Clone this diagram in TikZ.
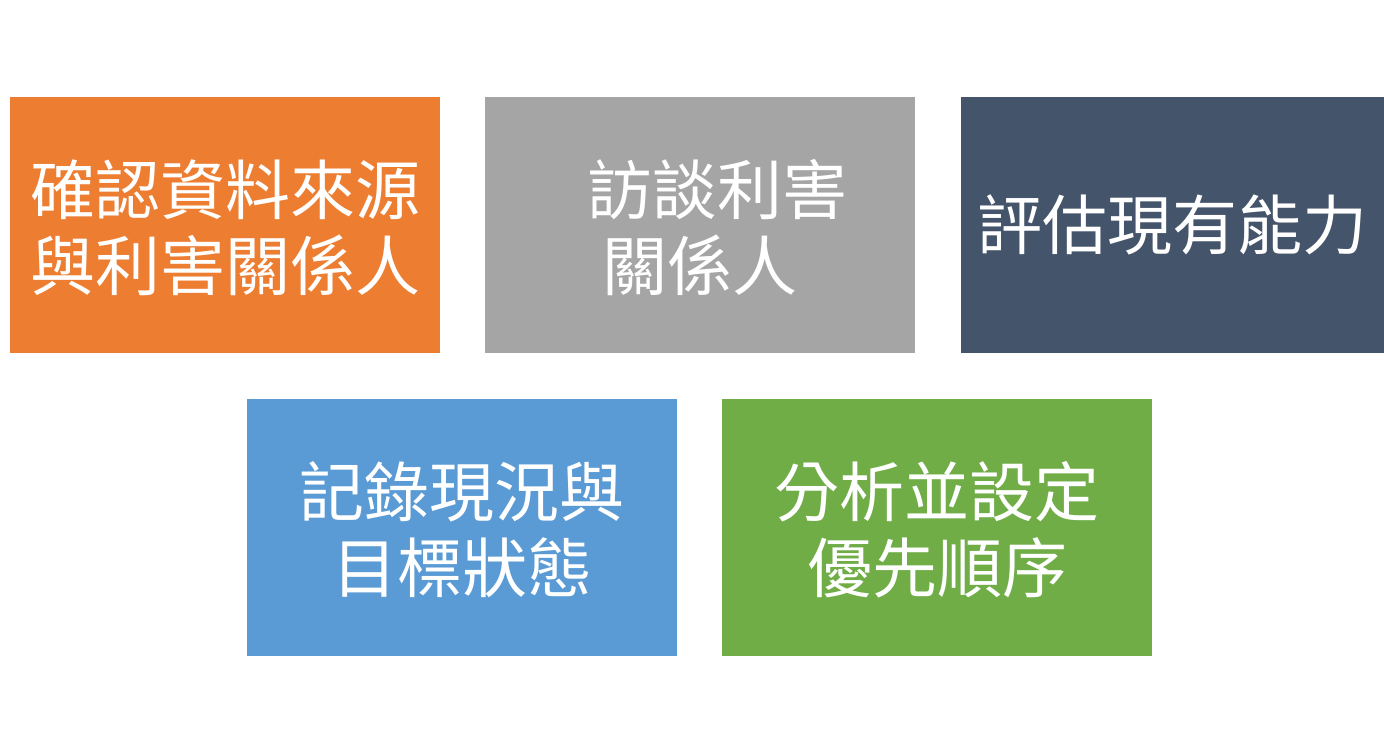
\documentclass[tikz,border=0pt]{standalone}
\usepackage{fontspec}
\newfontfamily\cjk{Noto Sans CJK TC}
\definecolor{cOrange}{HTML}{ED7D31}
\definecolor{cGray}{HTML}{A5A5A5}
\definecolor{cNavy}{HTML}{44546A}
\definecolor{cBlue}{HTML}{5B9BD5}
\definecolor{cGreen}{HTML}{70AD47}
\begin{document}
\begin{tikzpicture}[x=1pt,y=-1pt,
  card/.style={inner sep=0pt, outer sep=0pt, text=white, align=center,
    font=\cjk\fontsize{65}{76}\selectfont}]
\useasboundingbox[fill=white] (0,0) rectangle (1384,752);
\fill[cOrange] (10,97) rectangle (440,353);
\fill[cGray] (485,97) rectangle (915,353);
\fill[cNavy] (961,97) rectangle (1384,353);
\fill[cBlue] (247,399) rectangle (677,656);
\fill[cGreen] (722,399) rectangle (1152,656);
\node[card] (t1) at (225,228) {確認資料來源\\與利害關係人};
\node[card] (t2) at (700,228) {\hspace*{34pt}訪談利害\\關係人};
\node[card] (t3) at (1172,225) {評估現有能力};
\node[card] (t4) at (462,530) {記錄現況與\\目標狀態};
\node[card] (t5) at (937,530) {分析並設定\\優先順序};
\end{tikzpicture}
\end{document}
